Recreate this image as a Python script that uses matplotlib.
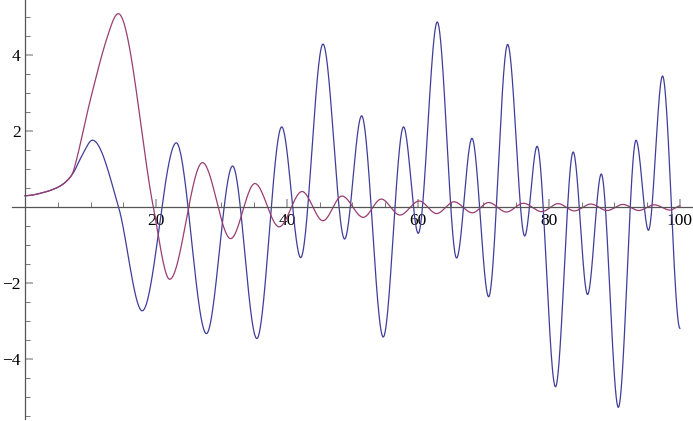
import matplotlib
matplotlib.use('Agg')
import matplotlib.pyplot as plt
import numpy as np

# points (extrema plus some points on the first swing)
blue_x = [0, 2.5, 5, 6.5, 7.5, 8.75, 10.3, 14.3, 17.9, 23.1, 27.7, 31.7,
          35.4, 39.2, 42.1, 45.5, 48.8, 51.4, 54.7, 57.8, 60.05, 62.95, 65.9, 68.25,
          70.8, 73.7, 76.3, 78.2, 81.0, 83.7, 85.9, 88.0, 90.6, 93.3, 95.2, 97.35, 100]
blue_y = [0.31, 0.38, 0.53, 0.72, 0.95, 1.38, 1.77, 0.0, -2.72, 1.70, -3.32, 1.09,
          -3.45, 2.12, -1.32, 4.30, -0.83, 2.41, -3.41, 2.12, -0.68, 4.88, -1.33, 1.82,
          -2.35, 4.29, -0.75, 1.61, -4.72, 1.46, -2.29, 0.88, -5.26, 1.77, -0.60, 3.46, -3.18]

purple_x = [0, 2.5, 5, 6.5, 7.5, 10, 12.5, 14.25, 19.6, 22.1,
            27.1, 31.4, 35.1, 38.8, 42.3, 45.5, 48.4, 51.65, 54.4, 57.25, 60.2, 62.85,
            65.5, 68.3, 70.8, 73.5, 76.1, 78.9, 81.4, 83.9, 86.4, 88.9, 91.3, 93.7,
            96.1, 98.5, 100]
purple_y = [0.31, 0.38, 0.53, 0.72, 1.02, 2.85, 4.45, 5.10, 0.0, -1.89,
            1.18, -0.82, 0.63, -0.51, 0.42, -0.35, 0.30, -0.26, 0.22, -0.20, 0.17, -0.16,
            0.15, -0.14, 0.13, -0.12, 0.11, -0.11, 0.10, -0.09, 0.09, -0.08, 0.08, -0.08,
            0.07, -0.07, 0.04]

x_major = [20, 40, 60, 80, 100]
x_minor = [5, 10, 15, 25, 30, 35, 45, 50, 55, 65, 70, 75, 85, 90, 95]
y_major = [-4, -2, 2, 4]
y_minor = [v for v in np.arange(-5.5, 5.01, 0.5) if v % 2 != 0]


def smooth(xk, yk, xs):
    # cubic through the read points, flat at the extrema
    xk = np.asarray(xk, float)
    yk = np.asarray(yk, float)
    h = np.diff(xk)
    d = np.diff(yk) / h
    m = np.zeros_like(yk)
    for k in range(1, len(xk) - 1):
        if d[k - 1] * d[k] > 0:
            c = (yk[k + 1] - yk[k - 1]) / (xk[k + 1] - xk[k - 1])
            lim = 3 * min(abs(d[k - 1]), abs(d[k]))
            m[k] = np.sign(c) * min(abs(c), lim)
    idx = np.clip(np.searchsorted(xk, xs) - 1, 0, len(h) - 1)
    t = (xs - xk[idx]) / h[idx]
    h00 = 2 * t**3 - 3 * t**2 + 1
    h10 = t**3 - 2 * t**2 + t
    h01 = -2 * t**3 + 3 * t**2
    h11 = t**3 - t**2
    return (h00 * yk[idx] + h10 * h[idx] * m[idx]
            + h01 * yk[idx + 1] + h11 * h[idx] * m[idx + 1])


xs = np.linspace(0, 100, 3000)

plt.rcParams['font.family'] = ['Liberation Serif', 'DejaVu Serif']

fig = plt.figure(figsize=(6.93, 4.21), dpi=100)
ax = fig.add_axes([0, 0, 1, 1])

ax.plot(xs, smooth(blue_x, blue_y, xs), color='#3F3D99', lw=0.9)
ax.plot(xs, smooth(purple_x, purple_y, xs), color='#993D71', lw=0.9)

ax.set_xlim(-3.82, 102.0)
ax.set_ylim(-5.62, 5.46)

for s in ['top', 'right']:
    ax.spines[s].set_visible(False)
ax.spines['left'].set_position(('data', 0))
ax.spines['bottom'].set_position(('data', 0))
ax.spines['left'].set_bounds(-5.57, 5.46)
ax.spines['bottom'].set_bounds(-2.0, 102.0)
for s in ['left', 'bottom']:
    ax.spines[s].set_color('#555555')
    ax.spines[s].set_linewidth(0.9)

ax.set_xticks(x_major)
ax.set_xticklabels([str(v) for v in x_major])
ax.set_xticks(x_minor, minor=True)
ax.set_yticks(y_major)
ax.set_yticklabels(['\u22124', '\u22122', '2', '4'])
ax.set_yticks(y_minor, minor=True)

ax.tick_params(which='major', direction='in', length=6, width=1.3, color='#aaaaaa',
               labelsize=12.5, pad=4)
ax.tick_params(which='minor', direction='in', length=3.6, width=0.7, color='#777777')
ax.tick_params(axis='y', which='major', pad=3)

fig.savefig('out.png', dpi=100)
